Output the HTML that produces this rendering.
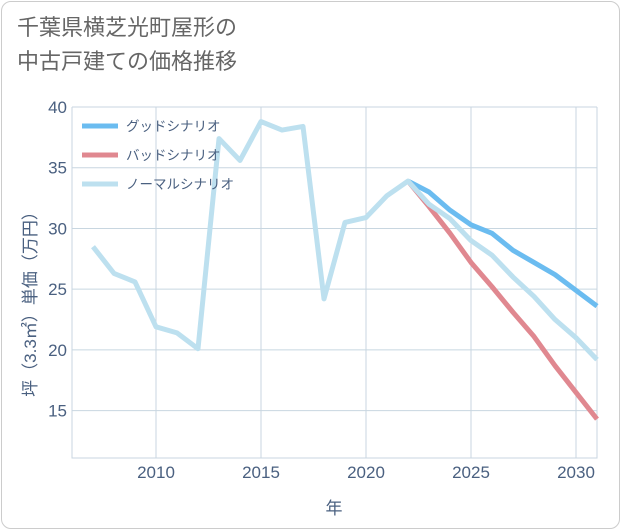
<!DOCTYPE html>
<html><head><meta charset="utf-8"><style>
body{margin:0;background:#fff;}
.card{position:absolute;left:1px;top:1px;width:617px;height:526px;border:1px solid #ccc;border-radius:10px;background:#fff;}
.title{position:absolute;left:17px;top:11px;font:22px "Liberation Sans","Noto Sans CJK JP",sans-serif;color:#666;line-height:34px;}
svg text{font-family:"Liberation Sans","Noto Sans CJK JP",sans-serif;}
</style></head><body>
<div class="card"></div>
<div class="title">千葉県横芝光町屋形の<br>中古戸建ての価格推移</div>
<svg id="c" width="621" height="530" style="position:absolute;left:0;top:0"></svg>
<script>
const years=[2007,2008,2009,2010,2011,2012,2013,2014,2015,2016,2017,2018,2019,2020,2021,2022,2023,2024,2025,2026,2027,2028,2029,2030,2031];
const normal=[28.5,26.3,25.6,21.9,21.4,20.1,37.4,35.6,38.8,38.1,38.4,24.2,30.5,30.9,32.7,33.9,32.0,30.8,29.0,27.8,26.0,24.4,22.5,21.0,19.2];
const goodYears=[2022,2023,2024,2025,2026,2027,2028,2029,2030,2031];
const good=[33.9,33.0,31.5,30.3,29.6,28.2,27.2,26.2,24.9,23.6];
const bad=[33.9,31.8,29.6,27.2,25.2,23.1,21.1,18.7,16.5,14.3];
const xTicks=[2010,2015,2020,2025,2030];
const yTicks=[15,20,25,30,35,40];
const X0=72,X1=597,Y0=107,Y1=458;
const xMin=2006,xMax=2031,yMin=11.1,yMax=40;
const x=v=>X0+(v-xMin)/(xMax-xMin)*(X1-X0);
const y=v=>Y1-(v-yMin)/(yMax-yMin)*(Y1-Y0);
const svg=document.getElementById('c');
const NS='http://www.w3.org/2000/svg';
function mk(t,a){const e=document.createElementNS(NS,t);for(const k in a)e.setAttribute(k,a[k]);svg.appendChild(e);return e;}
for(const t of yTicks){
 const l=mk('line',{x1:X0,x2:X1,y1:y(t),y2:y(t),stroke:'#c8d6e0','stroke-width':1});
 
 
 const tx=mk('text',{x:X0-5,y:y(t)+6,'text-anchor':'end','font-size':17,fill:'#4a6080'});tx.textContent=t;
 
 
}
for(const t of xTicks){
 const l=mk('line',{x1:x(t),x2:x(t),y1:Y0,y2:Y1,stroke:'#c8d6e0','stroke-width':1});
 
 
 const tx=mk('text',{x:x(t),y:Y1+20,'text-anchor':'middle','font-size':17,fill:'#4a6080'});tx.textContent=t;
 
 
}
const ax=mk('path',{d:`M${X0} ${Y0}V${Y1}H${X1}V${Y0}`,fill:'none',stroke:'#c8d6e0'});


function line(xs,vs,col,name){
 const p=mk('polyline',{points:xs.map((v,i)=>x(v)+','+y(vs[i])).join(' '),fill:'none',stroke:col,'stroke-width':5,'stroke-linejoin':'round'});
 
 
}
line(goodYears,good,'#6bbcf0','good-scenario-line');
line(goodYears,bad,'#e08890','bad-scenario-line');
line(years,normal,'#bde0ef','normal-scenario-line');
const leg=[['グッドシナリオ','#6bbcf0'],['バッドシナリオ','#e08890'],['ノーマルシナリオ','#bde0ef']];
leg.forEach((d,i)=>{
 const yy=126+i*29;
 const l=mk('line',{x1:82,x2:118,y1:yy,y2:yy,stroke:d[1],'stroke-width':5});
 
 
 const t=mk('text',{x:126,y:yy+5,'font-size':13.5,fill:'#4a6080'});t.textContent=d[0];
 
 
});
const xl=mk('text',{x:334,y:514,'text-anchor':'middle','font-size':17,fill:'#4a6080'});xl.textContent='年';


const yl=mk('text',{x:0,y:0,'text-anchor':'middle','font-size':17,fill:'#4a6080',transform:'translate(36,300) rotate(-90)'});yl.textContent='坪（3.3㎡）単価（万円）';


</script>
</body></html>
